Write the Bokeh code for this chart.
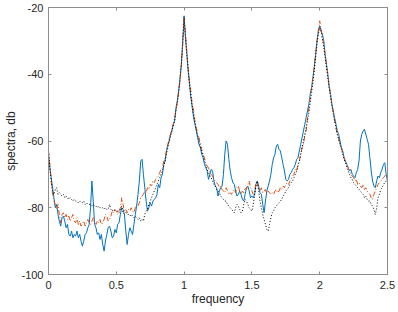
import numpy as np
from bokeh.plotting import figure
from bokeh.models import LinearAxis, FixedTicker, Range1d
from bokeh.embed import file_html
from bokeh.resources import INLINE

# frequency grid (0 .. 2.5 step 0.01)
freq = list(np.round(np.linspace(0, 2.5, 251), 2))

blue_db = [
    -64, -68, -71, -74, -77, -80, -79, -82, -84, -85.5,
    -83, -82.5, -84, -86, -85, -88, -88.5, -87, -89, -88,
    -88.5, -87, -89, -88, -90, -91.5, -90, -88, -87.5, -86,
    -85, -80, -72, -78, -85, -86, -88, -87.5, -89.5, -88,
    -91, -93, -90, -88, -86, -85.5, -87, -89, -88.5, -86.5,
    -87.5, -85, -84.5, -82, -80, -80.5, -82, -87, -91, -88,
    -86, -87, -88, -85, -82, -79.5, -76, -72, -66, -65.5,
    -70, -74, -78, -81, -80, -78.5, -79.5, -78, -77.5, -77,
    -76, -73, -74, -71, -70, -67, -66, -63, -61, -60,
    -58, -57, -55, -54, -50, -48, -45, -41, -37, -30,
    -22.5, -29, -34, -39, -43, -47, -50, -53, -55, -57,
    -59, -61, -62, -64, -65, -67, -68, -69, -71.5, -70,
    -68.5, -69, -72, -73.5, -74, -76.5, -75, -74, -73.5, -70,
    -64, -60, -61, -65.5, -69, -71, -72.5, -73, -75, -76.5,
    -76, -75, -76, -77.5, -78, -76, -74, -73.5, -75, -77,
    -76.5, -77, -76, -73, -72, -73.5, -75.5, -76, -79, -81.5,
    -78, -75, -73.5, -72, -70, -67, -65, -64, -61.5, -61,
    -62.5, -63, -65, -67, -69, -71.5, -72, -71.5, -70, -69.5,
    -68.5, -68, -67, -65.5, -65, -63, -61, -59, -57, -55,
    -53, -51, -49, -46, -44, -41, -38, -34, -30, -27,
    -25.5, -27, -28, -30, -34, -37, -40, -44, -46, -49,
    -51, -53, -55, -57, -58, -60, -62, -63, -65, -66,
    -67, -68, -69, -68.5, -70, -70.5, -71, -69.5, -68.5, -66,
    -60, -58, -57, -56.5, -58, -59.5, -61, -65, -69, -72,
    -73.5, -74, -72, -70.5, -71, -69.5, -68.5, -67, -66.5, -70,
    -72,
]

orange_db = [
    -63, -67, -72, -76, -78, -79, -80.5, -79, -82, -84.5,
    -82, -81.5, -83, -82, -83.5, -82.5, -84, -83, -82, -84,
    -84.5, -83, -85, -84, -85.5, -85, -84, -85.5, -84.5, -83.5,
    -84.5, -85, -84, -83, -84.5, -85, -84, -84.5, -83.5, -85,
    -84.5, -83.5, -82, -82.5, -84, -83.5, -82.5, -81, -81.5, -80.5,
    -81, -82, -81, -80, -77, -79, -81, -80.5, -81.5, -80.5,
    -81, -80, -81, -81.5, -80, -79, -79.5, -78.5, -77, -76.5,
    -76, -75, -75.5, -74, -74.5, -73, -73.5, -72, -72.5, -71.5,
    -71, -70.5, -69.5, -68.5, -68, -66, -65, -63, -61.5, -59,
    -58, -56, -55, -53, -51, -48, -45, -42, -37, -31,
    -23, -28, -33, -38, -42, -45, -49, -51, -54, -56,
    -58, -59, -61, -62.5, -64, -65, -66.5, -67.5, -68, -69.5,
    -70, -70.5, -71.5, -72, -72.5, -73, -74, -73.5, -74.5, -75,
    -75.5, -74, -75, -76, -75.5, -76, -75, -74.5, -75.5, -74,
    -73.5, -75, -76, -75, -75.5, -74, -74.5, -73, -72, -74,
    -75, -76, -75, -72.5, -72, -74.5, -75, -74, -75.5, -75,
    -74.5, -76, -75, -75.5, -76, -75.5, -76, -75, -74.5, -75.5,
    -75, -74, -74.5, -73.5, -74, -73, -72.5, -73, -72, -71.5,
    -70.5, -70, -68.5, -69, -67, -66, -64, -62, -61, -58.5,
    -57, -53, -50, -47, -44, -41, -37, -34, -30, -27,
    -24, -26.5, -29, -31, -34, -37, -40, -43, -46, -49,
    -51, -54, -56, -58, -59.5, -61, -62, -63.5, -65, -66.5,
    -67, -68, -69, -70, -70.5, -71, -72, -71.5, -73, -72.5,
    -73.5, -74, -73, -74.5, -74, -75, -75.5, -76, -77, -77.5,
    -76, -75, -74, -73, -72.5, -72, -71.5, -71, -70.5, -70,
    -70,
]

black_db = [
    -63, -68, -72, -75, -76, -74.5, -74, -76, -75.5, -76,
    -76.5, -76, -77, -76.5, -77, -77.5, -77, -77.5, -78, -77.5,
    -78, -78, -78.5, -78, -78.5, -78.5, -78, -79, -78.5, -79,
    -79, -79, -79.5, -79, -79.5, -79.5, -80, -79.5, -80, -80,
    -80, -80.5, -80, -80.5, -80.5, -79, -80.5, -81, -80.5, -81,
    -81, -81, -81.5, -81, -79.5, -81.5, -82, -81.5, -82, -82,
    -82.5, -82, -82.5, -83, -82.5, -83, -83.5, -83, -84, -83.5,
    -84, -82, -81, -80.5, -79, -78, -77, -76, -75, -74,
    -73, -72, -71, -70, -69, -67.5, -66, -64, -62, -60,
    -58.5, -57, -55.5, -54, -51, -48.5, -45.5, -41.5, -37, -30.5,
    -23, -28.5, -33.5, -38.5, -43, -46.5, -49.5, -52, -54.5, -56.5,
    -58.5, -60, -61.5, -63, -64.5, -66, -67, -68.5, -69.5, -70.5,
    -71, -72, -73, -73.5, -74.5, -75, -75.5, -76.5, -77, -77.5,
    -78, -78, -79, -79.5, -80, -80.5, -81, -81.5, -80, -79,
    -79.5, -80.5, -81.5, -81, -79, -77.5, -78, -79, -80, -80.5,
    -81, -79, -76, -73.5, -72, -75, -78, -80, -82, -83.5,
    -85, -86.5, -87, -85, -83, -81.5, -81, -80, -79.5, -79,
    -78.5, -78, -77.5, -76.5, -76, -75, -74.5, -74, -73, -72.5,
    -72, -71, -70, -69, -67.5, -66, -64, -62, -60, -58,
    -56, -54, -51.5, -48.5, -45.5, -42.5, -39, -35, -31, -28,
    -26, -27, -29.5, -32, -35, -38, -41, -44, -47, -49.5,
    -52, -54, -56, -58, -59.5, -61, -62.5, -64, -65.5, -66.5,
    -68, -69, -70, -71, -71.5, -72.5, -73, -73.5, -74, -74.5,
    -75, -75.5, -76, -77, -76.5, -77.5, -78, -78, -79, -79.5,
    -80.5, -82, -80, -77, -76, -74.5, -74, -73, -72.5, -72,
    -72,
]

x_ticks = [0, 0.5, 1, 1.5, 2, 2.5]
x_tick_labels = ["0", "0.5", "1", "1.5", "2", "2.5"]
y_ticks = [-100, -80, -60, -40, -20]
y_tick_labels = ["-100", "-80", "-60", "-40", "-20"]

FONT = "Liberation Sans"
TXT = "#262626"
FRAME = "#8c8c8c"

p = figure(width=398, height=312, output_backend="svg", toolbar_location=None,
           x_range=Range1d(0, 2.5), y_range=Range1d(-100, -20),
           min_border_left=48, min_border_right=11, min_border_top=7, min_border_bottom=38,
           x_axis_location=None, y_axis_location=None)
p.grid.visible = False
p.outline_line_color = FRAME
p.outline_line_width = 1
p.background_fill_color = "white"
p.border_fill_color = "white"

def style_axis(ax, ticks, labels, show_labels):
    ax.ticker = FixedTicker(ticks=ticks)
    ax.axis_line_color = FRAME
    ax.major_tick_line_color = FRAME
    ax.major_tick_in = 3
    ax.major_tick_out = 0
    ax.minor_tick_line_color = None
    if show_labels:
        ax.major_label_overrides = {t: l for t, l in zip(ticks, labels)}
        ax.major_label_text_font = FONT
        ax.major_label_text_color = TXT
        ax.major_label_text_font_size = "11px"
        ax.axis_label_text_font = FONT
        ax.axis_label_text_color = TXT
        ax.axis_label_text_font_size = "12px"
        ax.axis_label_text_font_style = "normal"
    else:
        ax.major_label_text_color = None
        ax.major_label_standoff = 0
        ax.major_label_text_font_size = "1px"

xb = LinearAxis(axis_label="frequency")
style_axis(xb, x_ticks, x_tick_labels, True)
xb.major_label_standoff = 6
xb.axis_label_standoff = 0
p.add_layout(xb, "below")

yl = LinearAxis(axis_label="spectra, db")
style_axis(yl, y_ticks, y_tick_labels, True)
yl.major_label_standoff = 5
yl.axis_label_standoff = 0
p.add_layout(yl, "left")

xt = LinearAxis()
style_axis(xt, x_ticks, x_tick_labels, False)
p.add_layout(xt, "above")

yr = LinearAxis()
style_axis(yr, y_ticks, y_tick_labels, False)
p.add_layout(yr, "right")

p.line(freq, blue_db, line_color="#0072BD", line_width=1)
p.line(freq, orange_db, line_color="#D95319", line_width=1, line_dash="5 2 1 2")
p.line(freq, black_db, line_color="#000000", line_width=1, line_dash="1 2")

open("out.html", "w").write(file_html(p, INLINE))
